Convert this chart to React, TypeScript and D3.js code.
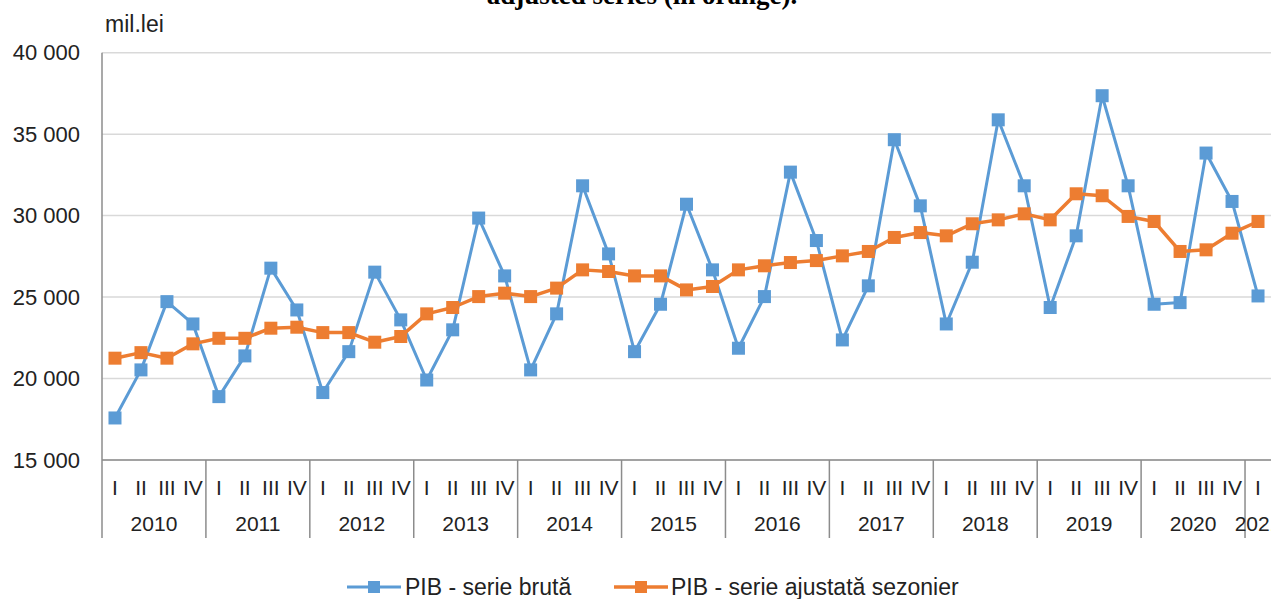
import React from "react";
import * as d3 from "d3";

const years = ["2010","2011","2012","2013","2014","2015","2016","2017","2018","2019","2020","2021"];
const quarters = ["I","II","III","IV"];
const yTicks = [15000, 20000, 25000, 30000, 35000, 40000];

const rawSeries = [
  17580, 20530, 24720, 23350,
  18890, 21390, 26775, 24210,
  19140, 21650, 26530, 23600,
  19910, 22990, 29850, 26300,
  20530, 23970, 31830, 27650,
  21650, 24560, 30700, 26670,
  21860, 25030, 32670, 28470,
  22370, 25690, 34660, 30600,
  23350, 27140, 35880, 31830,
  24360, 28760, 37360, 31830,
  24560, 24660, 33840, 30870,
  25070,
];

const adjustedSeries = [
  21250, 21590, 21250, 22130,
  22470, 22470, 23090, 23150,
  22820, 22820, 22230, 22580,
  23970, 24360, 25030, 25240,
  25030, 25550, 26670, 26570,
  26300, 26300, 25440, 25650,
  26670, 26920, 27120, 27240,
  27530, 27800, 28660, 28960,
  28760, 29500, 29740, 30110,
  29740, 31340, 31220, 29950,
  29640, 27800, 27900, 28920,
  29640,
];

const BLUE = "#5b9bd5";
const ORANGE = "#ed7d31";
const FONT = "'Liberation Sans', Arial, sans-serif";
const W = 1271;

export default function App() {
  const n = rawSeries.length;
  const idx = d3.range(n);
  const x = d3.scaleBand<number>().domain(idx).range([102, W]).padding(0);
  const y = d3.scaleLinear().domain([15000, 40000]).range([460, 52.7]);
  const cx = (i: number) => (x(i) as number) + x.bandwidth() / 2;

  const line = d3.line<number>().x((_, i) => cx(i)).y((d) => y(d));
  const fmt = (v: number) => d3.format(",")(v).replace(/,/g, " ");

  const ms = 13;
  const yearStart = (k: number) => x(k * 4) as number;
  const yearEnd = (k: number) => (k * 4 + 4 < n ? (x(k * 4 + 4) as number) : W);

  return (
    <div style={{ position: "fixed", left: 0, top: 0, width: W, height: 599, overflow: "hidden", background: "#fff" }}>
      <svg width={W} height={599} style={{ display: "block" }}>
        <text x={642} y={4} textAnchor="middle" fontFamily="'Liberation Serif', 'Times New Roman', serif" fontWeight="bold" fontSize={27} fill="#000">
          adjusted series (in orange).
        </text>
        <text x={105} y={32} fontFamily={FONT} fontSize={23} fill="#222">mil.lei</text>

        {yTicks.map((t) => (
          <g key={t}>
            <line x1={102} x2={W} y1={y(t)} y2={y(t)} stroke="#d9d9d9" strokeWidth={1.5} />
            <text x={80} y={y(t)} dy="0.35em" textAnchor="end" fontFamily={FONT} fontSize={22} fill="#222">{fmt(t)}</text>
          </g>
        ))}

        <line x1={102} x2={W} y1={460} y2={460} stroke="#8c8c8c" strokeWidth={1.5} />
        <line x1={102} x2={102} y1={52.7} y2={538} stroke="#8c8c8c" strokeWidth={1.5} />

        {years.map((yr, k) => {
          const s = yearStart(k);
          const e = yearEnd(k);
          return (
            <g key={yr}>
              {k > 0 && <line x1={s} x2={s} y1={460} y2={538} stroke="#8c8c8c" strokeWidth={1.5} />}
              <text x={(s + e) / 2} y={524} dy="0.35em" textAnchor="middle" fontFamily={FONT} fontSize={21} fill="#222">{yr}</text>
            </g>
          );
        })}

        {idx.map((i) => (
          <text key={i} x={cx(i)} y={488} dy="0.35em" textAnchor="middle" fontFamily={FONT} fontSize={21} fill="#222">{quarters[i % 4]}</text>
        ))}

        <path d={line(rawSeries) || ""} fill="none" stroke={BLUE} strokeWidth={3} strokeLinejoin="round" />
        {rawSeries.map((v, i) => (
          <rect key={"b" + i} x={cx(i) - ms / 2} y={y(v) - ms / 2} width={ms} height={ms} fill={BLUE} />
        ))}

        <path d={line(adjustedSeries) || ""} fill="none" stroke={ORANGE} strokeWidth={3.5} strokeLinejoin="round" />
        {adjustedSeries.map((v, i) => (
          <rect key={"o" + i} x={cx(i) - ms / 2} y={y(v) - ms / 2} width={ms} height={ms} fill={ORANGE} />
        ))}

        <g>
          <line x1={347} x2={401} y1={587} y2={587} stroke={BLUE} strokeWidth={3} />
          <rect x={374 - 6} y={587 - 6} width={12} height={12} fill={BLUE} />
          <text x={405} y={587} dy="0.35em" fontFamily={FONT} fontSize={23} fill="#222">PIB - serie brută</text>
          <line x1={614} x2={668} y1={587} y2={587} stroke={ORANGE} strokeWidth={3.5} />
          <rect x={641 - 6} y={587 - 6} width={12} height={12} fill={ORANGE} />
          <text x={671} y={587} dy="0.35em" fontFamily={FONT} fontSize={23} fill="#222">PIB - serie ajustată sezonier</text>
        </g>
      </svg>
    </div>
  );
}
